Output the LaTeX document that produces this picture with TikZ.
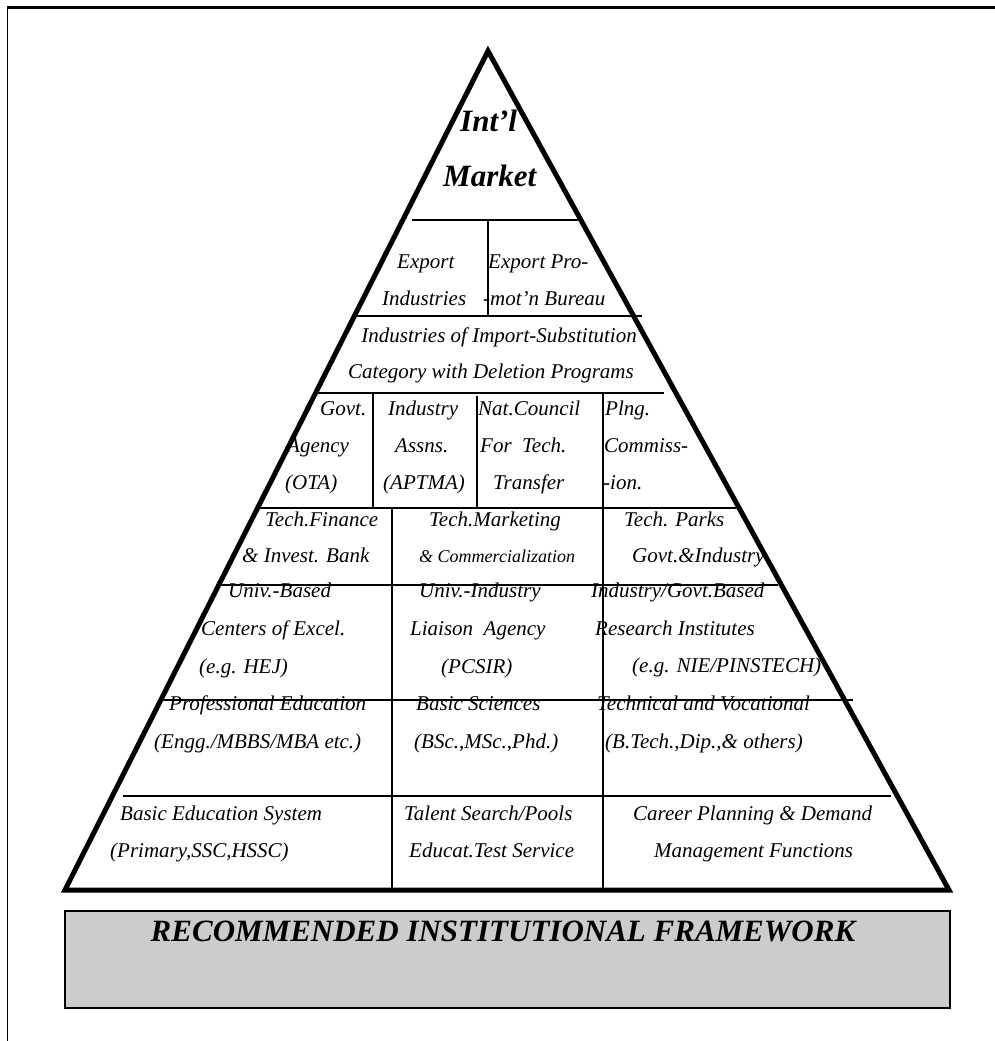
\documentclass[tikz,border=0pt]{standalone}
\usepackage{fontspec}
\setmainfont{Liberation Serif}
\begin{document}
\begin{tikzpicture}[x=1pt,y=-1pt,
  frameline/.style={line width=2.2pt},
  side/.style={line width=5pt, line join=miter},
  edge/.style={line width=2.2pt},
  lbl/.style={anchor=base west, inner sep=0pt, font=\fontsize{21}{25}\selectfont\itshape},
  lblr/.style={anchor=base east, inner sep=0pt, font=\fontsize{21}{25}\selectfont\itshape},
  small/.style={anchor=base west, inner sep=0pt, font=\fontsize{18}{22}\selectfont\itshape},
  head/.style={anchor=base west, inner sep=0pt, font=\fontsize{31}{36}\selectfont\bfseries\itshape},
  banner/.style={fill=black!20, draw=black, line width=1.6pt}]
\useasboundingbox (0,0) rectangle (995,1041);

% page frame (top and left rules)
\draw[frameline] (995,7.5) -- (6.5,7.5);
\draw[line width=1.5pt] (7.5,6.5) -- (7.5,1041);

% the pyramid outline
\coordinate (apex) at (488,51);
\coordinate (bl) at (65,890);
\coordinate (br) at (949,890);
\draw[side] (bl) -- (apex) -- (br) -- cycle;

% tier rules and column dividers
\draw[edge] (412,220) -- (578,220);
\draw[edge] (488,220) -- (488,316);
\draw[edge] (352,316) -- (642,316);
\draw[edge] (316,393) -- (664,393);
\draw[edge] (373,393) -- (373,508);
\draw[edge] (477,396) -- (477,508);
\draw[edge] (603,393) -- (603,890);
\draw[edge] (258,508) -- (737,508);
\draw[edge] (392,508) -- (392,890);
\draw[edge] (219,585) -- (778,585);
\draw[edge] (159,700) -- (853,700);
\draw[edge] (123,796) -- (891,796);

% top tier
\node[head] (intl) at (460,131) {Int’l};
\node[head] (market) at (443,186) {Market};

% export tier
\node[lbl] (exp1) at (397,268) {Export};
\node[lbl] (exp2) at (382,305) {Industries};
\node[lbl] (epb1) at (488,268) {Export Pro-};
\node[lbl] (epb2) at (483,305) {-mot’n Bureau};

% import substitution tier
\node[lblr] (imp1) at (637,342) {Industries of Import-Substitution};
\node[lblr] (imp2) at (634,378) {Category with Deletion Programs};

% agencies tier
\node[lbl] (gov1) at (320,415) {Govt.};
\node[lbl] (gov2) at (287,452) {Agency};
\node[lbl] (gov3) at (285,489) {(OTA)};
\node[lbl] (ind1) at (388,415) {Industry};
\node[lbl] (ind2) at (395,452) {Assns.};
\node[lbl] (ind3) at (383,489) {(APTMA)};
\node[lbl] (nat1) at (478,415) {Nat.Council};
\node[lbl] (nat2) at (480,452) {For\ \ Tech.};
\node[lbl] (nat3) at (493,489) {Transfer};
\node[lbl] (pln1) at (605,415) {Plng.};
\node[lbl] (pln2) at (604,452) {Commiss-};
\node[lbl] (pln3) at (603,489) {-ion.};

% technology tier
\node[lbl] (tf1) at (265,526) {Tech.Finance};
\node[lbl] (tf2) at (242,562) {\& Invest. Bank};
\node[lbl] (tm1) at (429,526) {Tech.Marketing};
\node[small] (tm2) at (419,562) {\& Commercialization};
\node[lbl] (tp1) at (624,526) {Tech. Parks};
\node[lbl] (tp2) at (632,562) {Govt.\&Industry};

% research tier
\node[lbl] (ub1) at (228,597) {Univ.-Based};
\node[lbl] (ub2) at (201,635) {Centers of Excel.};
\node[lbl] (ub3) at (199,673) {(e.g. HEJ)};
\node[lbl] (ui1) at (419,597) {Univ.-Industry};
\node[lbl] (ui2) at (410,635) {Liaison\ \ Agency};
\node[lbl] (ui3) at (441,673) {(PCSIR)};
\node[lbl] (ri1) at (591,597) {Industry/Govt.Based};
\node[lbl] (ri2) at (595,635) {Research Institutes};
\node[lbl] (ri3) at (632,672) {(e.g. NIE/PINSTECH)};

% higher education tier
\node[lbl] (pe1) at (169,710) {Professional Education};
\node[lbl] (pe2) at (154,748) {(Engg./MBBS/MBA etc.)};
\node[lbl] (bs1) at (416,710) {Basic Sciences};
\node[lbl] (bs2) at (414,748) {(BSc.,MSc.,Phd.)};
\node[lbl] (tv1) at (597,710) {Technical and Vocational};
\node[lbl] (tv2) at (605,748) {(B.Tech.,Dip.,\& others)};

% foundation tier
\node[lbl] (be1) at (120,820) {Basic Education System};
\node[lbl] (be2) at (110,857) {(Primary,SSC,HSSC)};
\node[lbl] (ts1) at (404,820) {Talent Search/Pools};
\node[lbl] (ts2) at (409,857) {Educat.Test Service};
\node[lbl] (cp1) at (633,820) {Career Planning \& Demand};
\node[lbl] (cp2) at (654,857) {Management Functions};

% caption banner
\draw[banner] (65,911) rectangle (950,1008);
\node[anchor=base, inner sep=0pt, font=\fontsize{31}{36}\selectfont\bfseries\itshape] (caption) at (503,941) {RECOMMENDED INSTITUTIONAL FRAMEWORK};
\end{tikzpicture}
\end{document}
